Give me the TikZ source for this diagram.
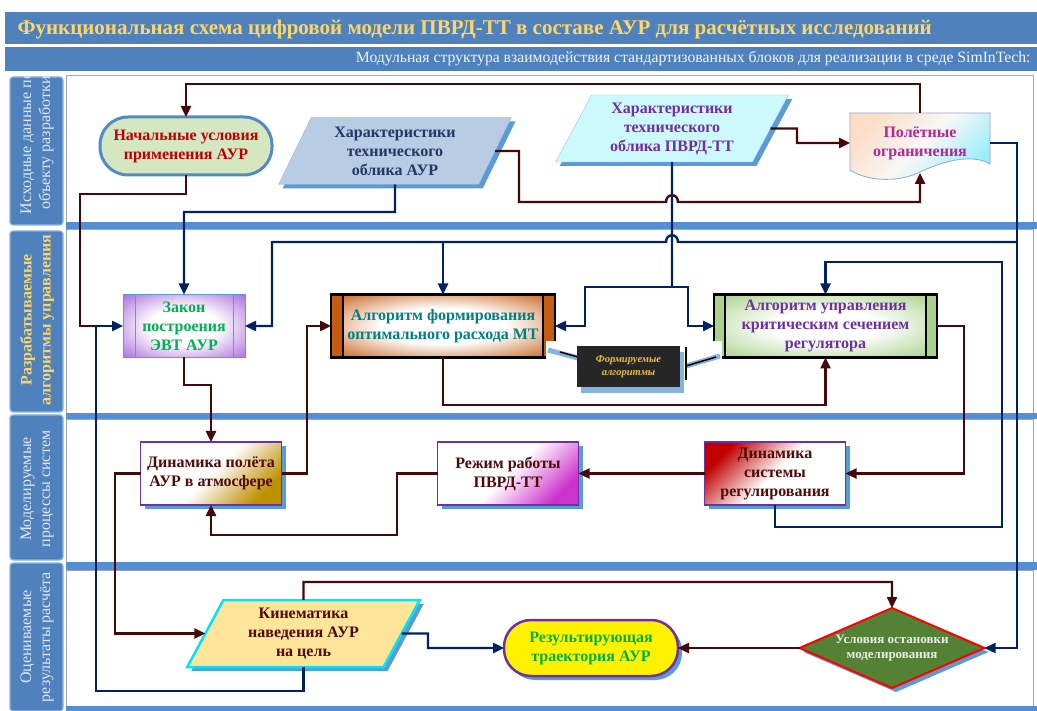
\documentclass[tikz,border=0pt]{standalone}
\usepackage{fontspec}
\setmainfont{Liberation Serif}
\usetikzlibrary{arrows.meta,shapes.geometric,shadows}

\definecolor{lanebl}{RGB}{79,129,189}
\definecolor{lanebd}{RGB}{141,180,226}
\definecolor{sepbl}{RGB}{85,142,213}
\definecolor{lanebrd}{RGB}{150,165,215}
\definecolor{shbl}{RGB}{91,155,213}
\definecolor{ttlgold}{RGB}{255,214,102}
\definecolor{mrn}{RGB}{70,8,8}
\definecolor{nvy}{RGB}{0,34,100}
\definecolor{nachfill}{RGB}{212,231,193}
\definecolor{nachtxt}{RGB}{192,0,0}
\definecolor{aurfill}{RGB}{184,204,228}
\definecolor{aurtxt}{RGB}{31,56,100}
\definecolor{pvrdfill}{RGB}{204,250,252}
\definecolor{purp}{RGB}{112,48,160}
\definecolor{ogrpeach}{RGB}{251,222,200}
\definecolor{ogrcyan}{RGB}{150,238,250}
\definecolor{ogrtxt}{RGB}{176,40,150}
\definecolor{zakfill}{RGB}{175,115,220}
\definecolor{grtxt}{RGB}{0,176,80}
\definecolor{orng}{RGB}{197,90,17}
\definecolor{tealtxt}{RGB}{0,128,128}
\definecolor{uprfill}{RGB}{170,210,140}
\definecolor{dkred}{RGB}{80,10,10}
\definecolor{gldc}{RGB}{191,144,0}
\definecolor{magc}{RGB}{204,51,204}
\definecolor{redc}{RGB}{192,0,0}
\definecolor{kinfill}{RGB}{255,229,153}
\definecolor{kinbrd}{RGB}{0,230,245}
\definecolor{stopfill}{RGB}{84,130,53}
\definecolor{formgold}{RGB}{230,190,70}
\definecolor{lanetxt}{RGB}{225,232,240}

\pgfdeclareradialshading{zakshade}{\pgfpoint{0bp}{0bp}}{color(0bp)=(white); color(14bp)=(white); color(35bp)=(zakfill); color(50bp)=(zakfill)}
\pgfdeclareradialshading{algshade}{\pgfpoint{0bp}{0bp}}{color(0bp)=(white); color(14bp)=(white); color(36bp)=(orng); color(50bp)=(orng)}
\pgfdeclareradialshading{uprshade}{\pgfpoint{0bp}{0bp}}{color(0bp)=(white); color(12bp)=(white); color(34bp)=(uprfill); color(50bp)=(uprfill)}

\begin{document}
\begin{tikzpicture}[x=1pt, y=-1pt,
	mline/.style={draw=mrn, line width=2.4pt},
	nline/.style={draw=nvy, line width=2.4pt},
	arr/.style={-{Triangle[length=11pt,width=10pt]}},
	txt/.style={font=\fontsize{16}{19}\selectfont\bfseries, align=center, outer sep=0pt},
	shad/.style={drop shadow={shadow xshift=4pt, shadow yshift=-4pt, fill=shbl, opacity=1}},
	para/.style={txt, trapezium, trapezium left angle=64, trapezium right angle=116, trapezium stretches=true, minimum width=233pt, minimum height=67pt, inner sep=0pt, shad},
	procbox/.style={txt, text=dkred, draw=purp, line width=1.2pt, minimum width=141pt, minimum height=63pt, shad},
	algbox/.style={txt, minimum height=63pt},
	lanebox/.style={fill=lanebl, draw=lanebd, line width=1.2pt, rounded corners=3pt},
	lanelbl/.style={rotate=90, align=center, font=\fontsize{16}{19}\selectfont},
	lanearea/.style={fill=white, draw=lanebrd, line width=0.8pt},
	sepbar/.style={fill=sepbl}
	]
	\useasboundingbox (0,0) rectangle (1037,711);
	
	
	\fill[lanebl] (5,12) rectangle (1037,44);
	\fill[lanebl] (5,47) rectangle (1037,71);
	\node[anchor=west, text=ttlgold, font=\fontsize{21}{24}\selectfont\bfseries] (ttl) at (14,29) {Функциональная схема цифровой модели ПВРД-ТТ в составе АУР для расчётных исследований};
	\node[anchor=east, text=white!92!lanebl, font=\fontsize{15.7}{18}\selectfont] (sub) at (1034,59) {Модульная структура взаимодействия стандартизованных блоков для реализации в среде SimInTech:};
	
	
	\draw[lanearea] (66,75) rectangle (1033,222);
	\draw[lanearea] (66,229) rectangle (1033,413);
	\draw[lanearea] (66,419) rectangle (1033,562);
	\draw[lanearea] (66,570) rectangle (1033,706);
	\fill[sepbar] (66,222) rectangle (1037,229);
	\fill[sepbar] (66,413) rectangle (1037,419);
	\fill[sepbar] (66,562) rectangle (1037,570);
	\fill[sepbar] (66,706) rectangle (1037,711);
	
	\draw[lanebox] (10,77) rectangle (63,225);
	\draw[lanebox] (10,231) rectangle (63,412);
	\draw[lanebox] (10,415) rectangle (63,560);
	\draw[lanebox] (10,563) rectangle (63,711);
	\begin{scope}
		\clip (10,77) rectangle (63,225);
		\node[lanelbl, text=lanetxt] (l1) at (37,143) {Исходные данные по\\объекту разработки};
	\end{scope}
	\node[lanelbl, text=ttlgold, font=\fontsize{16}{19}\selectfont\bfseries] (l2) at (37,320) {Разрабатываемые\\алгоритмы управления};
	\node[lanelbl, text=lanetxt] (l3) at (37,489) {Моделируемые\\процессы систем};
	\node[lanelbl, text=lanetxt] (l4) at (37,637) {Оцениваемые\\результаты расчёта};
	
	
	\node[txt, text=nachtxt, fill=nachfill, draw=shbl!90!black, line width=3pt, rounded corners=28pt, minimum width=172pt, minimum height=58pt] (nach) at (186,146) {Начальные условия\\применения АУР};
	\node[para, fill=aurfill, draw=lanebd, text=aurtxt] (aur) at (395,151) {Характеристики\\технического\\облика АУР};
	\node[para, fill=pvrdfill, draw=shbl!60, text=purp, trapezium left angle=62, trapezium right angle=118] (pvrd) at (672,128.5) {Характеристики\\технического\\облика ПВРД-ТТ};
	\shade[top color=ogrpeach, bottom color=ogrcyan, middle color=white!94!gray, shading angle=45, draw=lanebrd, line width=0.8pt] (850,113) -- (990,113) -- (990,164) .. controls (975,155) and (950,158) .. (920,172) .. controls (895,184) and (865,180) .. (850,170) -- cycle;
	\node[txt, text=ogrtxt, minimum width=140pt, minimum height=60pt] (ogr) at (920,143) {Полётные\\ограничения};
	
	
	\node[txt, text=grtxt, shade, shading=zakshade, draw=shbl, line width=1pt, minimum width=122pt, minimum height=63pt] (zak) at (184,326) {Закон\\построения\\ЭВТ АУР};
	\draw[shbl, line width=1pt] ([xshift=12pt]zak.north west) -- ([xshift=12pt]zak.south west);
	\draw[shbl, line width=1pt] ([xshift=-12pt]zak.north east) -- ([xshift=-12pt]zak.south east);
	
	\node[algbox, text=tealtxt, shade, shading=algshade, minimum width=224pt] (alg) at (443,326) {Алгоритм формирования\\оптимального расхода МТ};
	\fill[orng] (alg.north west) rectangle ([xshift=12pt]alg.south west);
	\fill[orng] (alg.north east) rectangle ([xshift=-12pt]alg.south east);
	\draw[line width=2.5pt] (alg.north west) rectangle (alg.south east);
	\draw[line width=2.5pt] ([xshift=12pt]alg.north west) -- ([xshift=12pt]alg.south west);
	\draw[line width=2.5pt] ([xshift=-12pt]alg.north east) -- ([xshift=-12pt]alg.south east);
	
	\node[algbox, text=purp, shade, shading=uprshade, minimum width=223pt] (upr) at (825.5,326) {Алгоритм управления\\критическим сечением\\регулятора};
	\fill[uprfill] (upr.north west) rectangle ([xshift=11pt]upr.south west);
	\fill[uprfill] (upr.north east) rectangle ([xshift=-11pt]upr.south east);
	\draw[line width=2.5pt] (upr.north west) rectangle (upr.south east);
	\draw[line width=2.5pt] ([xshift=11pt]upr.north west) -- ([xshift=11pt]upr.south west);
	\draw[line width=2.5pt] ([xshift=-11pt]upr.north east) -- ([xshift=-11pt]upr.south east);
	
	\fill[white] (546,341) rectangle (722,388);
	\draw[shbl!75, line width=5pt] (548,350) -- (578,358);
	\draw[line width=1.5pt] (560,352) -- (578,357);
	\draw[shbl!75, line width=5pt] (686,366) -- (720,356);
	\draw[line width=1.5pt] (686,366) -- (716,357);
	\node[fill=black!85, text=formgold, font=\fontsize{10.5}{13}\selectfont\bfseries\itshape, align=center, minimum width=103pt, minimum height=41pt, drop shadow={shadow xshift=4pt, shadow yshift=-6pt, fill=shbl!75, opacity=1}] (form) at (628.5,366.5) {Формируемые\\алгоритмы};
	\draw[line width=2.5pt] (686,347) -- (686,380);
	
	
	\node[procbox, top color=white, bottom color=gldc, middle color=white, shading angle=45] (dpol) at (211,473.5) {Динамика полёта\\АУР в атмосфере};
	\node[procbox, top color=white, bottom color=magc, middle color=white, shading angle=45] (rezh) at (508,473.5) {Режим работы\\ПВРД-ТТ};
	\node[procbox, top color=redc, bottom color=white, middle color=white, shading angle=45] (dsys) at (775,473.5) {Динамика\\системы\\регулирования};
	
	
	\node[para, fill=kinfill, draw=kinbrd, line width=2.5pt, text=dkred] (kin) at (303.5,633.5) {Кинематика\\наведения АУР\\на цель};
	\node[txt, text=grtxt, fill=yellow, draw=purp, line width=2.5pt, rounded corners=27pt, minimum width=174pt, minimum height=56pt, shad] (res) at (591,648) {Результирующая\\траектория АУР};
	\node[diamond, aspect=2.3, inner sep=0pt, fill=stopfill, draw=red, line width=2pt, minimum width=185pt, minimum height=80pt, text=white!84!gray, align=center, outer sep=0pt, font=\fontsize{13}{15}\selectfont\bfseries, shad] (stop) at (892,648) {Условия остановки\\моделирования};
	
	
	\draw[mline, arr] (ogr.north) -- (920,84) -| (nach.north);
	\draw[mline] (nach.south) |- (80,194) |- (96,326);
	\draw[mline, arr] (aur.east) -- (519,151) -- (519,202) -- (666,202) .. controls (666,193) and (678,193) .. (678,202) -- (920,202) -- (ogr.south);
	\draw[mline, arr] (pvrd.east) -- (797,128.5) |- (ogr.west);
	\draw[mline, arr] (zak.south) -- (184,385) -| (dpol.north);
	\draw[mline, arr] (dpol.east) -- (307,473.5) |- (alg.west);
	\draw[mline, arr] (alg.south) -- (443,405) -| (upr.south);
	\draw[mline, arr] (upr.east) -- (964,326) |- (dsys.east);
	\draw[mline, arr] (dsys.west) -- (rezh.east);
	\draw[mline, arr] (rezh.west) -- (397,473.5) |- (211,535) -- (dpol.south);
	\draw[mline, arr] (dpol.west) -- (115,473.5) |- (kin.west);
	\draw[mline, arr] (kin.north) -- (303.5,582) -| (stop.north);
	\draw[mline, arr] (stop.west) -- (res.east);
	
	\draw[nline, arr] (aur.south) -- (395,212) -| (zak.north);
	\draw[nline] (pvrd.south) -- (672,287);
	\draw[nline, arr] (672,287) -| (585,326) -- (alg.east);
	\draw[nline, arr] (672,287) -| (688,326) -- (upr.west);
	\draw[nline, arr] (ogr.east) -- (1017,143) |- (stop.east);
	\draw[nline, arr] (1017,242) -- (678,242) .. controls (678,233) and (666,233) .. (666,242) -- (272,242) |- (zak.east);
	\draw[nline, arr] (443,242) -- (alg.north);
	\draw[nline, arr] (dsys.south) |- (1002,527) -- (1002,262) -| (upr.north);
	\draw[nline, arr] (kin.south) |- (96,691) |- (zak.west);
	\draw[nline, arr] (kin.east) -- (428,633.5) |- (res.west);
	
\end{tikzpicture}
\end{document}
